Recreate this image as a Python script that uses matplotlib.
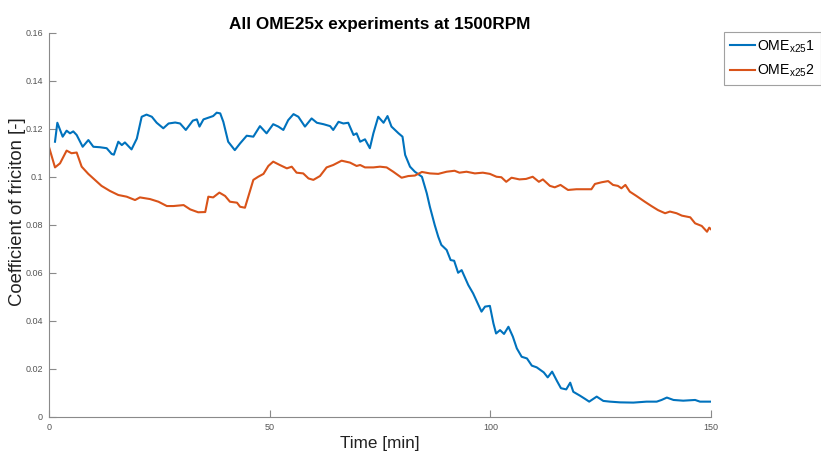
import matplotlib
matplotlib.use("Agg")
import matplotlib.pyplot as plt
import numpy as np

# Series 1 (blue): OME_x25 1
t1 = [1.36, 1.89, 3.1, 3.99, 4.76, 5.5, 6.27, 7.63, 8.92, 10.05, 11.55, 13.07, 14.2, 14.7,
      15.7, 16.5, 17.2, 18.7, 19.9, 21.0, 22.1, 23.3, 24.4, 25.9, 27.1, 28.6, 29.7, 31.0,
      32.6, 33.5, 34.1, 35.0, 36.1, 37.2, 38.0, 38.8, 39.5, 40.6, 42.1, 43.3, 44.8, 46.3,
      47.8, 49.3, 50.8, 51.97, 53.1, 54.2, 55.4, 56.5, 58.0, 59.5, 60.7, 62.2, 63.7, 64.4,
      65.6, 66.7, 67.8, 69.0, 69.7, 70.5, 71.6, 72.7, 73.5, 74.6, 75.8, 76.7, 77.6, 79.2,
      80.1, 80.7, 81.8, 82.9, 84.5, 85.6, 86.3, 87.4, 88.2, 88.9, 90.1, 91.0, 91.8, 92.7,
      93.5, 95.0, 96.1, 97.3, 98.0, 98.8, 99.9, 100.7, 101.3, 102.2, 103.1, 104.1, 105.1,
      106.0, 107.1, 108.3, 109.4, 110.5, 112.1, 113.0, 114.0, 115.1, 116.0, 117.2, 118.1,
      118.8, 120.3, 121.5, 122.4, 124.1, 125.6, 127.1, 129.4, 132.4, 135.4, 137.7, 138.8,
      140.0, 141.5, 143.7, 146.4, 147.5, 150.0]
cof1 = [0.1147, 0.1226, 0.1168, 0.1193, 0.1182, 0.1190, 0.1175, 0.1126, 0.1154, 0.1126,
        0.1124, 0.1120, 0.1096, 0.1093, 0.1147, 0.1133, 0.1144, 0.1115, 0.1160, 0.1251,
        0.1260, 0.1251, 0.1226, 0.1203, 0.1223, 0.1227, 0.1223, 0.1196, 0.1235, 0.1240,
        0.1210, 0.1240, 0.1247, 0.1254, 0.1268, 0.1265, 0.1230, 0.1147, 0.1112, 0.1140,
        0.1172, 0.1168, 0.1212, 0.1182, 0.1220, 0.1210, 0.1196, 0.1237, 0.1262, 0.1251,
        0.1210, 0.1244, 0.1226, 0.1220, 0.1212, 0.1196, 0.1230, 0.1223, 0.1226, 0.1175,
        0.1182, 0.1147, 0.1157, 0.1120, 0.1182, 0.1251, 0.1226, 0.1254, 0.1210, 0.1182,
        0.1168, 0.1092, 0.1043, 0.1022, 0.1001, 0.0932, 0.0876, 0.0800, 0.0751, 0.0717,
        0.0696, 0.0654, 0.0651, 0.0601, 0.0612, 0.0550, 0.0515, 0.0467, 0.0439, 0.0460,
        0.0463, 0.0390, 0.0348, 0.0362, 0.0346, 0.0376, 0.0335, 0.0286, 0.0251, 0.0244,
        0.0214, 0.0207, 0.0186, 0.0165, 0.0189, 0.0150, 0.0120, 0.0115, 0.0143, 0.0105,
        0.0089, 0.0075, 0.0064, 0.0085, 0.0067, 0.0064, 0.0061, 0.0060, 0.0064, 0.0064,
        0.0071, 0.0081, 0.0071, 0.0068, 0.0071, 0.0064, 0.0064]

# Series 2 (orange): OME_x25 2
t2 = [0.0, 1.36, 2.5, 3.99, 5.1, 6.27, 7.4, 8.9, 10.4, 11.9, 13.8, 15.7, 17.6, 19.5, 20.6,
      22.9, 24.8, 26.7, 28.2, 30.5, 32.0, 33.8, 35.4, 36.1, 37.2, 38.6, 39.9, 41.0, 42.6,
      43.3, 44.4, 46.3, 47.4, 48.6, 49.7, 50.8, 52.3, 53.9, 55.0, 56.1, 57.6, 58.8, 59.9,
      61.4, 62.9, 64.4, 66.3, 68.2, 69.7, 70.5, 71.6, 73.5, 75.0, 76.5, 78.0, 79.9, 81.4,
      82.9, 84.5, 86.3, 88.2, 90.1, 91.9, 93.0, 94.6, 96.5, 98.3, 99.9, 101.4, 102.5, 103.6,
      104.8, 106.6, 108.1, 109.6, 111.0, 111.9, 113.5, 114.6, 115.9, 117.6, 119.5, 121.4,
      122.9, 123.7, 125.2, 126.7, 127.8, 128.9, 129.7, 130.6, 131.6, 133.1, 135.0, 136.5,
      138.0, 139.6, 140.7, 142.2, 143.4, 145.3, 146.4, 147.9, 149.1, 149.6, 150.0]
cof2 = [0.1125, 0.1040, 0.1057, 0.1110, 0.1099, 0.1102, 0.1043, 0.1013, 0.0988, 0.0963,
        0.0942, 0.0925, 0.0918, 0.0904, 0.0915, 0.0908, 0.0897, 0.0879, 0.0879, 0.0883,
        0.0865, 0.0853, 0.0854, 0.0918, 0.0915, 0.0935, 0.0921, 0.0897, 0.0893, 0.0876,
        0.0872, 0.0988, 0.1001, 0.1013, 0.1046, 0.1064, 0.1050, 0.1036, 0.1043, 0.1018,
        0.1015, 0.0994, 0.0988, 0.1004, 0.1040, 0.1050, 0.1068, 0.1060, 0.1046, 0.1050,
        0.1040, 0.1040, 0.1043, 0.1040, 0.1022, 0.0997, 0.1004, 0.1006, 0.1021, 0.1015,
        0.1013, 0.1022, 0.1026, 0.1018, 0.1022, 0.1015, 0.1018, 0.1013, 0.1001, 0.0999,
        0.0980, 0.0997, 0.0990, 0.0992, 0.1001, 0.0980, 0.0990, 0.0963, 0.0957, 0.0967,
        0.0946, 0.0949, 0.0949, 0.0949, 0.0971, 0.0978, 0.0983, 0.0967, 0.0963, 0.0953,
        0.0967, 0.0939, 0.0921, 0.0897, 0.0879, 0.0862, 0.0849, 0.0856, 0.0849, 0.0839,
        0.0832, 0.0807, 0.0796, 0.0772, 0.0789, 0.0782]

labels = [r"OME$_{\mathregular{x25}}$1", r"OME$_{\mathregular{x25}}$2"]
xticks = [0, 50, 100, 150]
yticks = [0, 0.02, 0.04, 0.06, 0.08, 0.1, 0.12, 0.14, 0.16]
yticklabels = ["0", "0.02", "0.04", "0.06", "0.08", "0.1", "0.12", "0.14", "0.16"]

plt.rcParams['font.family'] = ['Liberation Sans', 'DejaVu Sans']
plt.rcParams['mathtext.fontset'] = 'custom'
plt.rcParams['mathtext.rm'] = 'Liberation Sans'

fig = plt.figure(figsize=(8.21, 4.53), dpi=100)
ax = fig.add_axes([49/821, 1-417/453, 662/821, 384/453])

ax.plot(t1, cof1, color='#0072BD', lw=1.5, label=labels[0])
ax.plot(t2, cof2, color='#D95319', lw=1.5, label=labels[1])

ax.set_xlim(0, 150)
ax.set_ylim(0, 0.16)
ax.set_xticks(xticks)
ax.set_xticklabels([str(x) for x in xticks])
ax.set_yticks(yticks)
ax.set_yticklabels(yticklabels)

axcol = '#8a8a8a'
for s in ['top', 'right']:
    ax.spines[s].set_visible(False)
for s in ['left', 'bottom']:
    ax.spines[s].set_color(axcol)
    ax.spines[s].set_linewidth(0.8)
ax.tick_params(direction='in', length=5, width=0.8, color=axcol,
               labelsize=6.5, labelcolor='#555555', pad=4.5)

ax.set_title("All OME25x experiments at 1500RPM", fontsize=12.3, fontweight='bold', pad=3)
ax.set_xlabel("Time [min]", fontsize=12.3, color='#222222', labelpad=3)
ax.set_ylabel("Coefficient of friciton [-]", fontsize=13.3, color='#222222')
ax.yaxis.set_label_coords(-0.0345, 0.534)

leg = ax.legend(loc='upper left', bbox_to_anchor=(1.0196, 1.0026), fontsize=10.2,
                frameon=True, fancybox=False, handlelength=1.75, handletextpad=0.1,
                borderpad=0.45, labelspacing=0.55, borderaxespad=0)
leg.get_frame().set_edgecolor('#8a8a8a')
leg.get_frame().set_linewidth(0.8)

fig.savefig("out.png", dpi=100)
